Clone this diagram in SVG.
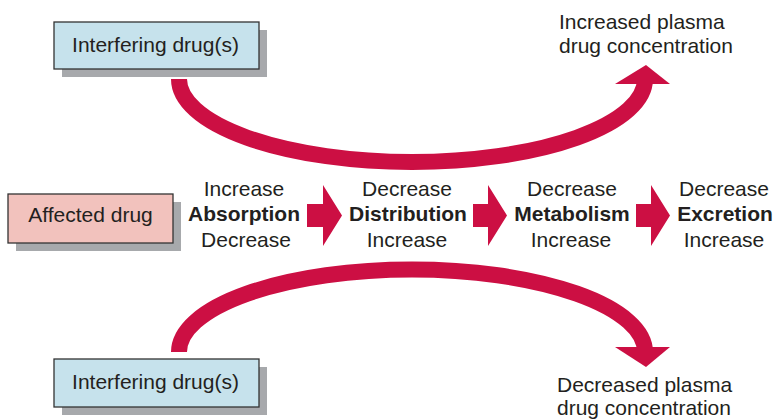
<svg xmlns="http://www.w3.org/2000/svg" width="776" height="420" viewBox="0 0 776 420">
<style>
  .t { font-family: "Liberation Sans", Arial, sans-serif; font-size: 21px; fill: #231f20; }
  .m { text-anchor: middle; }
  .b { font-weight: bold; }
  .shadow { fill: #a7a9ac; }
  .blue { fill: #c6e2ec; stroke: #333; stroke-width: 1.3; }
  .pink { fill: #f2c2bd; stroke: #333; stroke-width: 1.3; }
  .curve { fill: none; stroke: #cc0f43; stroke-width: 16; }
  .red { fill: #cc0f43; }
</style>
<rect width="776" height="420" fill="#ffffff"/>

<g id="connectors">
  <path class="curve" d="M179,79 A233,83 0 0 0 645,79"/>
  <polygon class="red" points="615,84 646,65 670,84"/>
  <path class="curve" d="M179,352 A233,82.5 0 0 1 645,352"/>
  <polygon class="red" points="615,347 646,367 670,347"/>
  <polygon class="red" points="307,204 323,204 323,185 342,215.5 323,246 323,227 307,227"/>
  <polygon class="red" points="473,204 488,204 488,185 507,215.5 488,246 488,227 473,227"/>
  <polygon class="red" points="636,204 651,204 651,185 670,215.5 651,246 651,227 636,227"/>
</g>

<g id="interfering-top">
  <rect class="shadow" x="62" y="30" width="205" height="47"/>
  <rect class="blue" x="54" y="22" width="205" height="47"/>
  <text class="t m" x="155.5" y="52">Interfering drug(s)</text>
</g>

<g id="affected-drug">
  <rect class="shadow" x="16" y="202" width="165" height="49"/>
  <rect class="pink" x="8" y="194" width="165" height="49"/>
  <text class="t m" x="90.5" y="222">Affected drug</text>
</g>

<g id="interfering-bottom">
  <rect class="shadow" x="62" y="367" width="205" height="48"/>
  <rect class="blue" x="54" y="359" width="205" height="48"/>
  <text class="t m" x="155.5" y="389">Interfering drug(s)</text>
</g>

<g id="absorption">
  <text class="t m" x="244" y="196">Increase</text>
  <text class="t m b" x="244" y="221">Absorption</text>
  <text class="t m" x="246" y="247">Decrease</text>
</g>

<g id="distribution">
  <text class="t m" x="407" y="196">Decrease</text>
  <text class="t m b" x="408" y="221">Distribution</text>
  <text class="t m" x="407" y="247">Increase</text>
</g>

<g id="metabolism">
  <text class="t m" x="572" y="196">Decrease</text>
  <text class="t m b" x="572" y="221">Metabolism</text>
  <text class="t m" x="571" y="247">Increase</text>
</g>

<g id="excretion">
  <text class="t m" x="724" y="196">Decrease</text>
  <text class="t m b" x="725" y="221">Excretion</text>
  <text class="t m" x="724" y="247">Increase</text>
</g>

<g id="increased-label">
  <text class="t" x="559" y="29">Increased plasma</text>
  <text class="t" x="559" y="53">drug concentration</text>
</g>

<g id="decreased-label">
  <text class="t" x="557" y="392">Decreased plasma</text>
  <text class="t" x="557" y="415">drug concentration</text>
</g>
</svg>
